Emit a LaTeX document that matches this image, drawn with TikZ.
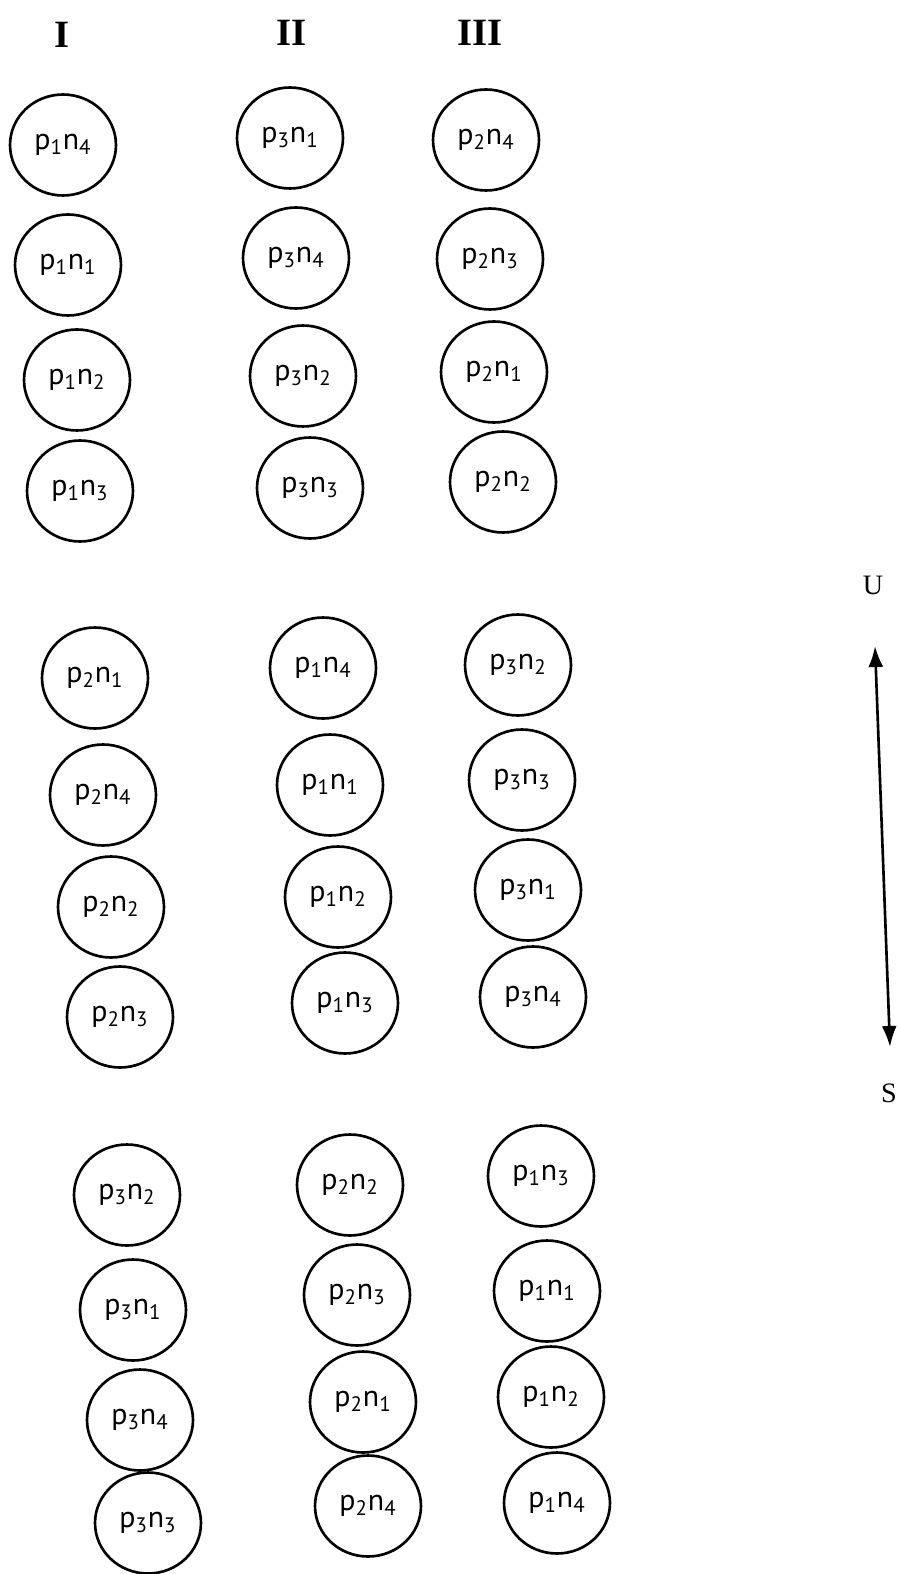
\documentclass[tikz,border=0pt]{standalone}
\usepackage{fontspec}
\setmainfont{Liberation Serif}
\newfontfamily\pairfamily{PT Sans}
\usetikzlibrary{arrows,arrows.meta,shapes.geometric}
\tikzstyle{pair}=[ellipse, draw, line width=1.5pt, minimum width=2.12cm, minimum height=2.02cm, inner sep=0pt, font=\pairfamily\fontsize{17}{19}\selectfont]
\tikzstyle{roman}=[font=\bfseries\fontsize{22}{24}\selectfont]
\tikzstyle{pole}=[font=\fontsize{16}{18}\selectfont]
\newcommand{\pn}[4]{
	\node[pair] (#1) at #2 {p\textsubscript{#3}n\textsubscript{#4}};
}

\begin{document}
\begin{tikzpicture}[x=0.02cm, y=-0.02cm]
	\useasboundingbox (0,0) rectangle (901,1574);
	\node[roman] (I) at (62,35) {I};
	\node[roman] (II) at (292,33) {II};
	\node[roman] (III) at (480,33) {III};
	\pn{a-I1}{(63,145)}{1}{4};
	\pn{a-I2}{(68,265)}{1}{1};
	\pn{a-I3}{(77,380)}{1}{2};
	\pn{a-I4}{(80,491)}{1}{3};
	\pn{a-II1}{(290,138)}{3}{1};
	\pn{a-II2}{(296,258)}{3}{4};
	\pn{a-II3}{(303,376)}{3}{2};
	\pn{a-II4}{(310,488)}{3}{3};
	\pn{a-III1}{(486,140)}{2}{4};
	\pn{a-III2}{(490,259)}{2}{3};
	\pn{a-III3}{(494,372)}{2}{1};
	\pn{a-III4}{(503,482)}{2}{2};
	\pn{b-I1}{(95,678)}{2}{1};
	\pn{b-I2}{(103,795)}{2}{4};
	\pn{b-I3}{(111,907)}{2}{2};
	\pn{b-I4}{(120,1017)}{2}{3};
	\pn{b-II1}{(323,668)}{1}{4};
	\pn{b-II2}{(330,785)}{1}{1};
	\pn{b-II3}{(338,897)}{1}{2};
	\pn{b-II4}{(345,1003)}{1}{3};
	\pn{b-III1}{(518,665)}{3}{2};
	\pn{b-III2}{(522,780)}{3}{3};
	\pn{b-III3}{(528,890)}{3}{1};
	\pn{b-III4}{(533,997)}{3}{4};
	\pn{c-I1}{(127,1195)}{3}{2};
	\pn{c-I2}{(133,1310)}{3}{1};
	\pn{c-I3}{(140,1420)}{3}{4};
	\pn{c-I4}{(148,1523)}{3}{3};
	\pn{c-II1}{(350,1185)}{2}{2};
	\pn{c-II2}{(357,1295)}{2}{3};
	\pn{c-II3}{(363,1402)}{2}{1};
	\pn{c-II4}{(368,1506)}{2}{4};
	\pn{c-III1}{(541,1176)}{1}{3};
	\pn{c-III2}{(547,1291)}{1}{1};
	\pn{c-III3}{(551,1397)}{1}{2};
	\pn{c-III4}{(557,1503)}{1}{4};
	\node[pole] (U) at (873,585) {U};
	\node[pole] (S) at (889,1093) {S};
	\coordinate (Utip) at (875,646);
	\coordinate (Stip) at (890,1047);
	\draw[<->, >={Latex[length=0.42cm,width=0.3cm]}, line width=1.5pt] (Utip) -- (Stip);
\end{tikzpicture}
\end{document}
